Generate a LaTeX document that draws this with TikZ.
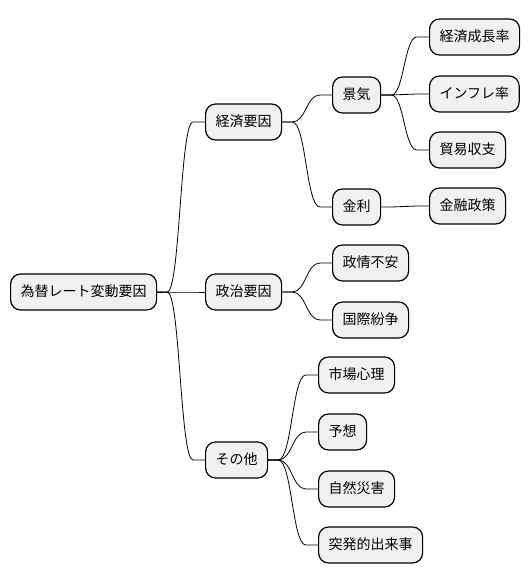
\documentclass[tikz,border=0pt]{standalone}
\usepackage{fontspec}
\newfontfamily\jp{Noto Sans CJK JP}
\usetikzlibrary{calc}
\definecolor{boxgray}{HTML}{F1F1F1}
\tikzset{
  mm/.style={draw=black, line width=1.2pt, fill=boxgray, rounded corners=10pt,
    minimum height=36pt, inner xsep=10pt, inner ysep=0pt, anchor=west,
    font=\jp\fontsize{14}{16}\selectfont, text height=11pt, text depth=2pt},
  link/.style={draw=black, line width=0.8pt}
}
\newcommand\mmconn[2]{%
  \draw[link] let \p1=(#1.east), \p2=(#2.west) in
    (\p1) -- (\x1+10pt,\y1) .. controls ({(\x1+\x2)/2-1pt},\y1) and ({(\x1+\x2)/2-1pt},\y2) .. (\x2-12pt,\y2) -- (\p2);}
\begin{document}
\begin{tikzpicture}[x=1pt,y=-1pt]
\useasboundingbox (0,0) rectangle (530,583);
\fill[white] (0,0) rectangle (530,583);
\node[mm] (root) at (10,292) {為替レート変動要因};
\node[mm] (econ) at (205,122) {経済要因};
\node[mm] (pol) at (205,292) {政治要因};
\node[mm] (other) at (205,460) {その他};
\node[mm] (keiki) at (332,95) {景気};
\node[mm] (kinri) at (332,207) {金利};
\node[mm] (gdp) at (429,37) {経済成長率};
\node[mm] (infl) at (429,94) {インフレ率};
\node[mm] (trade) at (429,150) {貿易収支};
\node[mm] (mon) at (429,206) {金融政策};
\node[mm] (seijo) at (332,263) {政情不安};
\node[mm] (funso) at (332,320) {国際紛争};
\node[mm] (shinri) at (318,375) {市場心理};
\node[mm] (yoso) at (318,432) {予想};
\node[mm] (saigai) at (318,489) {自然災害};
\node[mm] (toppa) at (318,545) {突発的出来事};
\mmconn{root}{econ}
\mmconn{root}{pol}
\mmconn{root}{other}
\mmconn{econ}{keiki}
\mmconn{econ}{kinri}
\mmconn{keiki}{gdp}
\mmconn{keiki}{infl}
\mmconn{keiki}{trade}
\mmconn{kinri}{mon}
\mmconn{pol}{seijo}
\mmconn{pol}{funso}
\mmconn{other}{shinri}
\mmconn{other}{yoso}
\mmconn{other}{saigai}
\mmconn{other}{toppa}
\end{tikzpicture}
\end{document}
